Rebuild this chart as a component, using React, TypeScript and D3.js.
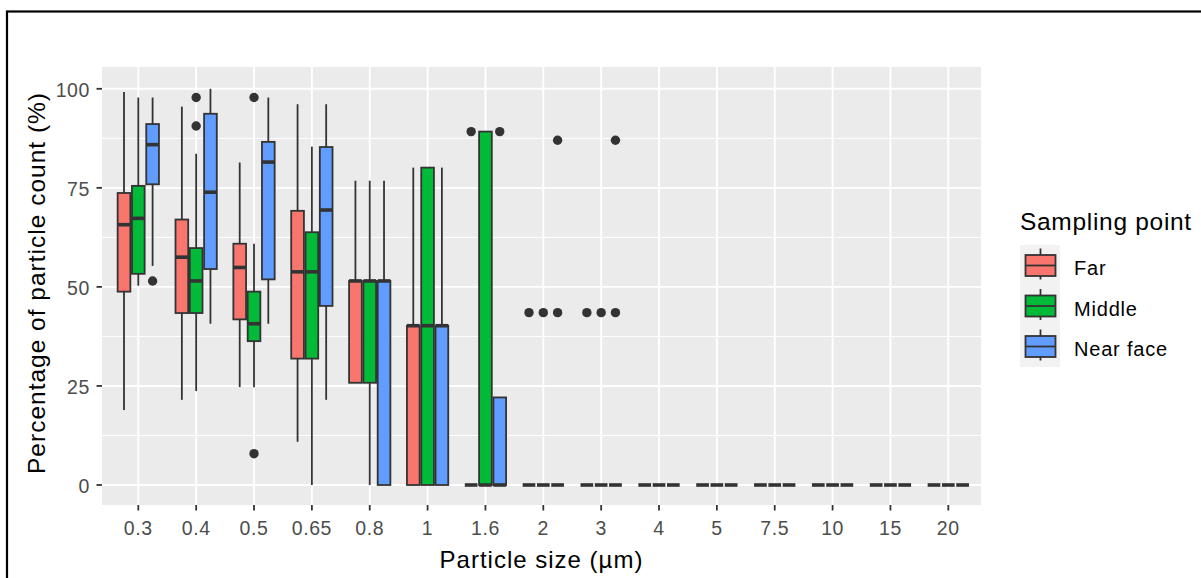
import React, { useEffect, useRef } from 'react';
import * as d3 from 'd3';

// Categorías y grupos
const sizes = ["0.3", "0.4", "0.5", "0.65", "0.8", "1", "1.6", "2", "3", "4", "5", "7.5", "10", "15", "20"];
const groups = ["Far", "Middle", "Near face"];
const colors = ["#F8766D", "#00BA38", "#619CFF"];
const yTicks = [0, 25, 50, 75, 100];
const yMinor = [12.5, 37.5, 62.5, 87.5];

// [whisker bajo, Q1, mediana, Q3, whisker alto] por tamaño
const farStats = [
    [18.9, 48.8, 65.7, 73.7, 99.2],
    [21.5, 43.4, 57.5, 67.0, 95.5],
    [24.7, 41.8, 54.9, 60.9, 81.4],
    [10.9, 31.9, 53.8, 69.2, 96.1],
    [25.8, 25.8, 51.5, 51.5, 76.8],
    [0, 0, 40.2, 40.2, 80.1],
    [0, 0, 0, 0, 0],
    [0, 0, 0, 0, 0],
    [0, 0, 0, 0, 0],
    [0, 0, 0, 0, 0],
    [0, 0, 0, 0, 0],
    [0, 0, 0, 0, 0],
    [0, 0, 0, 0, 0],
    [0, 0, 0, 0, 0],
    [0, 0, 0, 0, 0],
];
const middleStats = [
    [50.3, 53.3, 67.3, 75.5, 97.8],
    [23.7, 43.4, 51.5, 59.8, 83.6],
    [24.7, 36.3, 40.7, 48.8, 60.9],
    [0, 31.9, 53.8, 63.8, 85.4],
    [0, 25.8, 51.5, 51.5, 76.8],
    [0, 0, 40.2, 80.1, 80.1],
    [0, 0, 0, 89.2, 89.2],
    [0, 0, 0, 0, 0],
    [0, 0, 0, 0, 0],
    [0, 0, 0, 0, 0],
    [0, 0, 0, 0, 0],
    [0, 0, 0, 0, 0],
    [0, 0, 0, 0, 0],
    [0, 0, 0, 0, 0],
    [0, 0, 0, 0, 0],
];
const nearStats = [
    [55.3, 75.9, 85.9, 91.1, 97.8],
    [40.7, 54.5, 73.9, 93.7, 100],
    [40.7, 51.9, 81.5, 86.6, 97.8],
    [21.5, 45.2, 69.4, 85.3, 96.1],
    [0, 0, 51.5, 51.5, 76.8],
    [0, 0, 40.2, 40.2, 80.1],
    [0, 0, 0, 22.1, 22.1],
    [0, 0, 0, 0, 0],
    [0, 0, 0, 0, 0],
    [0, 0, 0, 0, 0],
    [0, 0, 0, 0, 0],
    [0, 0, 0, 0, 0],
    [0, 0, 0, 0, 0],
    [0, 0, 0, 0, 0],
    [0, 0, 0, 0, 0],
];

// Outliers: [tamaño, valor]
const farOutliers = [["1.6", 89.2], ["2", 43.5], ["3", 43.5]];
const middleOutliers = [["0.4", 97.8], ["0.4", 90.6], ["0.5", 97.8], ["0.5", 7.9], ["2", 43.5], ["3", 43.5]];
const nearOutliers = [["0.3", 51.5], ["1.6", 89.2], ["2", 43.5], ["2", 87.0], ["3", 43.5], ["3", 87.0]];

const W = 1201;
const H = 578;
const panel = { left: 102, right: 981, top: 67, bottom: 505 };
const font = "'Liberation Sans', Arial, sans-serif";
const dark = "#333333";
const lw = 1.8;

const App = () => {
    const svgRef = useRef(null);

    useEffect(() => {
        const svg = d3.select(svgRef.current);
        svg.selectAll("*").remove();

        const x = d3.scalePoint().domain(sizes).range([138.3, 948.3]);
        const dodge = d3.scaleBand().domain(groups).range([-22.25, 22.25]).padding(0.112);
        const bw = dodge.bandwidth();
        const y = d3.scaleLinear().domain([-5.05, 105.5]).range([panel.bottom, panel.top]);

        // marco negro
        svg.append("rect")
            .attr("x", 7).attr("y", 11.5)
            .attr("width", W + 50).attr("height", H + 50)
            .attr("fill", "none").attr("stroke", "#000").attr("stroke-width", 2.2);

        // fondo del panel
        svg.append("rect")
            .attr("x", panel.left).attr("y", panel.top)
            .attr("width", panel.right - panel.left).attr("height", panel.bottom - panel.top)
            .attr("fill", "#EBEBEB");

        const grid = svg.append("g").attr("stroke", "#fff");
        grid.selectAll(".minor").data(yMinor).join("line")
            .attr("x1", panel.left).attr("x2", panel.right)
            .attr("y1", d => y(d)).attr("y2", d => y(d))
            .attr("stroke-width", 1);
        grid.selectAll(".major").data(yTicks).join("line")
            .attr("x1", panel.left).attr("x2", panel.right)
            .attr("y1", d => y(d)).attr("y2", d => y(d))
            .attr("stroke-width", 1.9);
        grid.selectAll(".vx").data(sizes).join("line")
            .attr("y1", panel.top).attr("y2", panel.bottom)
            .attr("x1", d => x(d)).attr("x2", d => x(d))
            .attr("stroke-width", 1.9);

        // cajas
        const allStats = [farStats, middleStats, nearStats];
        const allOut = [farOutliers, middleOutliers, nearOutliers];
        groups.forEach((g, gi) => {
            const layer = svg.append("g");
            allStats[gi].forEach((s, i) => {
                const [lo, q1, med, q3, hi] = s;
                const cx = x(sizes[i]) + dodge(g) + bw / 2;
                if (hi > q3) {
                    layer.append("line").attr("x1", cx).attr("x2", cx)
                        .attr("y1", y(q3)).attr("y2", y(hi))
                        .attr("stroke", dark).attr("stroke-width", lw);
                }
                if (q1 > lo) {
                    layer.append("line").attr("x1", cx).attr("x2", cx)
                        .attr("y1", y(q1)).attr("y2", y(lo))
                        .attr("stroke", dark).attr("stroke-width", lw);
                }
                layer.append("rect")
                    .attr("x", cx - bw / 2).attr("y", y(q3))
                    .attr("width", bw).attr("height", y(q1) - y(q3))
                    .attr("fill", colors[gi]).attr("stroke", dark).attr("stroke-width", lw);
                layer.append("line")
                    .attr("x1", cx - bw / 2).attr("x2", cx + bw / 2)
                    .attr("y1", y(med)).attr("y2", y(med))
                    .attr("stroke", dark).attr("stroke-width", 3.6);
            });
            layer.selectAll("circle").data(allOut[gi]).join("circle")
                .attr("cx", d => x(d[0]) + dodge(g) + bw / 2)
                .attr("cy", d => y(d[1]))
                .attr("r", 4.7)
                .attr("fill", dark);
        });

        // eje Y
        const yAxis = svg.append("g");
        yAxis.selectAll("line").data(yTicks).join("line")
            .attr("x1", panel.left - 5.5).attr("x2", panel.left)
            .attr("y1", d => y(d)).attr("y2", d => y(d))
            .attr("stroke", dark).attr("stroke-width", lw);
        yAxis.selectAll("text").data(yTicks).join("text")
            .attr("x", panel.left - 12).attr("y", d => y(d) + 8.5)
            .attr("text-anchor", "end")
            .style("font-family", font).style("font-size", "19.5px").style("letter-spacing", "0.6px")
            .attr("fill", "#4D4D4D")
            .text(d => d);

        // eje X
        const xAxis = svg.append("g");
        xAxis.selectAll("line").data(sizes).join("line")
            .attr("x1", d => x(d)).attr("x2", d => x(d))
            .attr("y1", panel.bottom).attr("y2", panel.bottom + 5.5)
            .attr("stroke", dark).attr("stroke-width", lw);
        xAxis.selectAll("text").data(sizes).join("text")
            .attr("x", d => x(d)).attr("y", 535)
            .attr("text-anchor", "middle")
            .style("font-family", font).style("font-size", "19.5px").style("letter-spacing", "0.6px")
            .attr("fill", "#4D4D4D")
            .text(d => d);

        // títulos
        svg.append("text")
            .attr("x", (panel.left + panel.right) / 2).attr("y", 568)
            .attr("text-anchor", "middle")
            .style("font-family", font).style("font-size", "24px").style("letter-spacing", "1px")
            .attr("fill", "#000")
            .text("Particle size (µm)");
        svg.append("text")
            .attr("transform", `translate(44.5,${(panel.top + panel.bottom) / 2 - 3}) rotate(-90)`)
            .attr("text-anchor", "middle")
            .style("font-family", font).style("font-size", "24.5px").style("letter-spacing", "1px")
            .attr("fill", "#000")
            .text("Percentage of particle count (%)");

        // leyenda
        const leg = svg.append("g");
        leg.append("text")
            .attr("x", 1020).attr("y", 230)
            .style("font-family", font).style("font-size", "24.5px").style("letter-spacing", "0.7px")
            .attr("fill", "#000")
            .text("Sampling point");
        leg.append("rect")
            .attr("x", 1020).attr("y", 245).attr("width", 40).attr("height", 122)
            .attr("fill", "#F2F2F2");
        groups.forEach((g, gi) => {
            const cy = 265.5 + gi * 40.5;
            leg.append("line").attr("x1", 1040.5).attr("x2", 1040.5)
                .attr("y1", cy - 17).attr("y2", cy + 14)
                .attr("stroke", dark).attr("stroke-width", lw);
            leg.append("rect")
                .attr("x", 1025.5).attr("y", cy - 10.5).attr("width", 30).attr("height", 21)
                .attr("fill", colors[gi]).attr("stroke", dark).attr("stroke-width", lw);
            leg.append("line").attr("x1", 1025.5).attr("x2", 1055.5)
                .attr("y1", cy).attr("y2", cy)
                .attr("stroke", dark).attr("stroke-width", 1.8);
            leg.append("text")
                .attr("x", 1074).attr("y", cy + 9.5)
                .style("font-family", font).style("font-size", "20px").style("letter-spacing", "0.8px")
                .attr("fill", "#000")
                .text(g);
        });
    }, []);

    return (
        <svg ref={svgRef} width={W} height={H}
            style={{ position: 'absolute', left: 0, top: 0, background: '#fff' }}></svg>
    );
};

export default App;
